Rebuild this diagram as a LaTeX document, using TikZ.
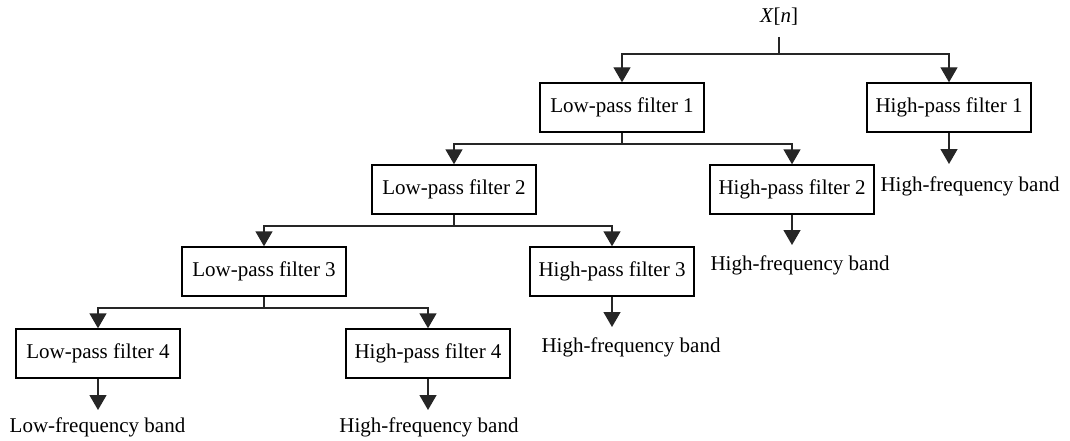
\documentclass[tikz,border=0pt]{standalone}
\usepackage{fontspec}
\setmainfont{Liberation Serif}
\usetikzlibrary{arrows.meta}
\begin{document}
\begin{tikzpicture}[x=1pt,y=-1pt,
  filterbox/.style={draw=black,line width=1.4pt,minimum width=164pt,minimum height=49pt,
    inner sep=0pt,font=\fontsize{21pt}{25pt}\selectfont},
  bandlabel/.style={inner sep=0pt,font=\fontsize{21pt}{25pt}\selectfont},
  wire/.style={draw=black!85,line width=1.4pt},
  feed/.style={wire,-{Triangle[width=17pt,length=15pt]}}]
  \useasboundingbox (0,0) rectangle (1070,441);

  % input signal
  \node[bandlabel] (xn) at (779,17) {\textit{X}[\textit{n}]};
  \coordinate (xs) at (779,37);
  \coordinate (j0) at (779,54);

  % filter bank
  \node[filterbox] (lp1) at (622,107.5) {Low-pass filter 1};
  \node[filterbox] (hp1) at (949,107.5) {High-pass filter 1};
  \node[filterbox] (lp2) at (454,189.5) {Low-pass filter 2};
  \node[filterbox] (hp2) at (792,189.5) {High-pass filter 2};
  \node[filterbox] (lp3) at (264,271.5) {Low-pass filter 3};
  \node[filterbox] (hp3) at (612,271.5) {High-pass filter 3};
  \node[filterbox] (lp4) at (98,353.5) {Low-pass filter 4};
  \node[filterbox] (hp4) at (428,353.5) {High-pass filter 4};

  % output bands
  \node[bandlabel] (b1) at (970,186) {High-frequency band};
  \node[bandlabel] (b2) at (800,265) {High-frequency band};
  \node[bandlabel] (b3) at (631,347) {High-frequency band};
  \node[bandlabel] (b4) at (97.5,427) {Low-frequency band};
  \node[bandlabel] (b5) at (429,427) {High-frequency band};

  \coordinate (t1) at (949,164);
  \coordinate (t2) at (792,245);
  \coordinate (t3) at (612,327);
  \coordinate (t4) at (98,410);
  \coordinate (t5) at (428,410);

  % branch points
  \coordinate (j1) at (622,144);
  \coordinate (j2) at (454,226);
  \coordinate (j3) at (264,308);

  % splitting connectors
  \draw[wire] (xs) -- (j0);
  \draw[feed] (j0) -| (lp1.north);
  \draw[feed] (j0) -| (hp1.north);

  \draw[wire] (lp1.south) -- (j1);
  \draw[feed] (j1) -| (lp2.north);
  \draw[feed] (j1) -| (hp2.north);

  \draw[wire] (lp2.south) -- (j2);
  \draw[feed] (j2) -| (lp3.north);
  \draw[feed] (j2) -| (hp3.north);

  \draw[wire] (lp3.south) -- (j3);
  \draw[feed] (j3) -| (lp4.north);
  \draw[feed] (j3) -| (hp4.north);

  % outputs
  \draw[feed] (hp1.south) -- (t1);
  \draw[feed] (hp2.south) -- (t2);
  \draw[feed] (hp3.south) -- (t3);
  \draw[feed] (lp4.south) -- (t4);
  \draw[feed] (hp4.south) -- (t5);
\end{tikzpicture}
\end{document}
